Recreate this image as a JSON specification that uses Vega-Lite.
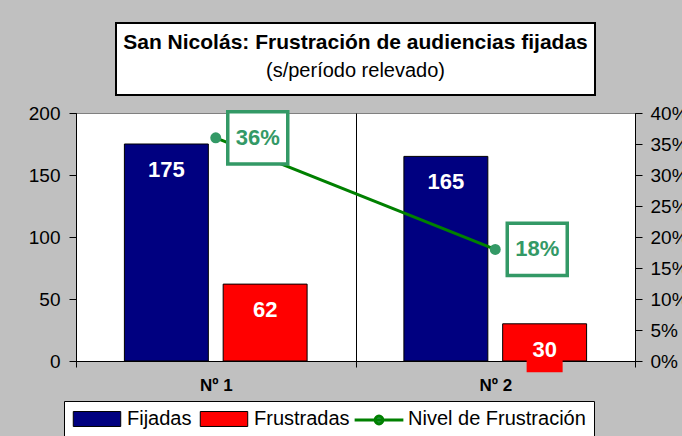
{
  "$schema": "https://vega.github.io/schema/vega-lite/v6.json",
  "background": "#c0c0c0",
  "padding": {"left": 27, "top": 22, "right": 5, "bottom": 10},
  "config": {
    "font": "Liberation Sans",
    "view": {"stroke": null},
    "axis": {"labelFont": "Liberation Sans", "labelColor": "black"}
  },
  "datasets": {
    "titles": [
      {"row": 1, "t": "San Nicolás: Frustración de audiencias fijadas"},
      {"row": 2, "t": "(s/período relevado)"}
    ],
    "bars": [
      {"cat": "Nº 1", "serie": "Fijadas", "value": 175},
      {"cat": "Nº 1", "serie": "Frustradas", "value": 62},
      {"cat": "Nº 2", "serie": "Fijadas", "value": 165},
      {"cat": "Nº 2", "serie": "Frustradas", "value": 30}
    ],
    "line": [
      {"cat": "Nº 1", "pct": 0.36},
      {"cat": "Nº 2", "pct": 0.18}
    ]
  },
  "center": true,
  "bounds": "flush",
  "spacing": 18,
  "vconcat": [
    {
      "width": 479,
      "height": 72,
      "view": {"fill": "white", "stroke": "black", "strokeWidth": 2},
      "data": {"name": "titles"},
      "encoding": {
        "y": {"field": "row", "type": "ordinal", "scale": {"type": "point", "padding": 0.75, "domain": [1, 2]}, "axis": null},
        "text": {"field": "t"}
      },
      "layer": [
        {
          "transform": [{"filter": "datum.row == 1"}],
          "mark": {"type": "text", "fontSize": 21, "fontWeight": "bold", "color": "black", "baseline": "middle", "dy": -2}
        },
        {
          "transform": [{"filter": "datum.row == 2"}],
          "mark": {"type": "text", "fontSize": 20, "color": "black", "baseline": "middle", "dy": -2}
        }
      ]
    },
    {
      "width": 559,
      "height": 248,
      "view": {"fill": "white", "stroke": "#808080", "strokeWidth": 1},
      "resolve": {"scale": {"y": "independent"}},
      "layer": [
        {
          "data": {"name": "bars"},
          "encoding": {
            "x": {
              "field": "cat", "type": "nominal",
              "scale": {"paddingInner": 0, "paddingOuter": 0},
              "axis": {"title": null, "labelFontSize": 17, "labelFontWeight": "bold", "labelPadding": 10, "labelAngle": 0,
                       "tickBand": "extent", "tickSize": 6, "tickColor": "black", "domainColor": "black",
                       "grid": true, "gridColor": "black", "gridWidth": 1}
            },
            "y": {
              "field": "value", "type": "quantitative",
              "scale": {"domain": [0, 200], "nice": false},
              "axis": {"title": null, "values": [0, 50, 100, 150, 200], "labelFontSize": 19, "tickSize": 7,
                       "tickColor": "black", "domainColor": "black", "grid": false, "labelPadding": 9}
            },
            "xOffset": {"field": "serie", "scale": {"paddingInner": 0.15, "paddingOuter": 0.49}}
          },
          "layer": [
            {
              "mark": {"type": "bar", "stroke": "black", "strokeWidth": 1},
              "encoding": {
                "color": {
                  "field": "serie", "type": "nominal",
                  "scale": {"domain": ["Fijadas", "Frustradas"], "range": ["#000080", "#ff0000"]},
                  "legend": {
                    "orient": "none", "legendX": -12, "legendY": 378, "direction": "horizontal", "columns": 2,
                    "title": "Nivel de Frustración", "titleOrient": "right", "titleFontSize": 20, "titleFontWeight": "normal",
                    "titleColor": "black", "titleFont": "Liberation Sans", "titlePadding": 58, "titleBaseline": "middle",
                    "titleLimit": 300,
                    "fillColor": "white", "strokeColor": "black", "padding": 8,
                    "labelFontSize": 20, "labelFont": "Liberation Sans", "labelColor": "black", "labelLimit": 300,
                    "symbolType": "M-3.65,-1.15L3.65,-1.15L3.65,1.15L-3.65,1.15Z", "symbolSize": 169,
                    "symbolOffset": 15, "labelOffset": 20, "columnPadding": 6,
                    "symbolStrokeColor": "black", "symbolStrokeWidth": 1, "symbolOpacity": 1
                  }
                }
              }
            },
            {
              "mark": {"type": "point", "shape": "M-0.8,-1L0.8,-1L0.8,1L-0.8,1Z", "size": 2025, "filled": true, "opacity": 1, "strokeWidth": 0, "yOffset": 26},
              "encoding": {
                "color": {"field": "serie", "type": "nominal", "legend": null}
              }
            },
            {
              "mark": {"type": "text", "fontWeight": "bold", "fontSize": 22, "baseline": "middle", "dy": 26},
              "encoding": {"text": {"field": "value"}, "color": {"value": "white"}}
            }
          ]
        },
        {
          "data": {"name": "line"},
          "encoding": {
            "x": {"field": "cat", "type": "nominal"},
            "y": {
              "field": "pct", "type": "quantitative",
              "scale": {"domain": [0, 0.4], "nice": false},
              "axis": {"title": null, "orient": "right", "format": ".0%",
                       "values": [0, 0.05, 0.1, 0.15, 0.2, 0.25, 0.3, 0.35, 0.4],
                       "labelFontSize": 19, "tickSize": 7, "tickColor": "black", "domainColor": "black",
                       "grid": false, "labelPadding": 8}
            }
          },
          "layer": [
            {
              "mark": {"type": "line", "strokeWidth": 3},
              "encoding": {
                "stroke": {
                  "datum": "Nivel de Frustración", "type": "nominal",
                  "scale": {"domain": ["Nivel de Frustración"], "range": ["#008000"]},
                  "legend": {
                    "orient": "none", "legendX": 275.5, "legendY": 387, "title": null, "padding": 0,
                    "labelExpr": "''", "labelFontSize": 20,
                    "symbolType": "M-3.75,0L3.75,0M0.6,0A0.6,0.6,0,1,1,-0.6,0A0.6,0.6,0,1,1,0.6,0",
                    "symbolSize": 169, "symbolOffset": 17.5, "symbolStrokeWidth": 3,
                    "symbolFillColor": "#339966", "symbolOpacity": 1
                  }
                }
              }
            },
            {"mark": {"type": "point", "filled": true, "color": "#339966", "size": 120, "opacity": 1}},
            {"mark": {"type": "point", "shape": "M-1,-0.87L1,-0.87L1,0.87L-1,0.87Z", "size": 3600, "filled": true,
                      "color": "white", "stroke": "#339966", "strokeWidth": 3.5, "opacity": 1, "xOffset": 42}},
            {
              "mark": {"type": "text", "color": "#339966", "fontWeight": "bold", "fontSize": 22, "baseline": "middle", "dx": 42},
              "encoding": {"text": {"field": "pct", "format": ".0%"}}
            }
          ]
        }
      ]
    }
  ]
}
